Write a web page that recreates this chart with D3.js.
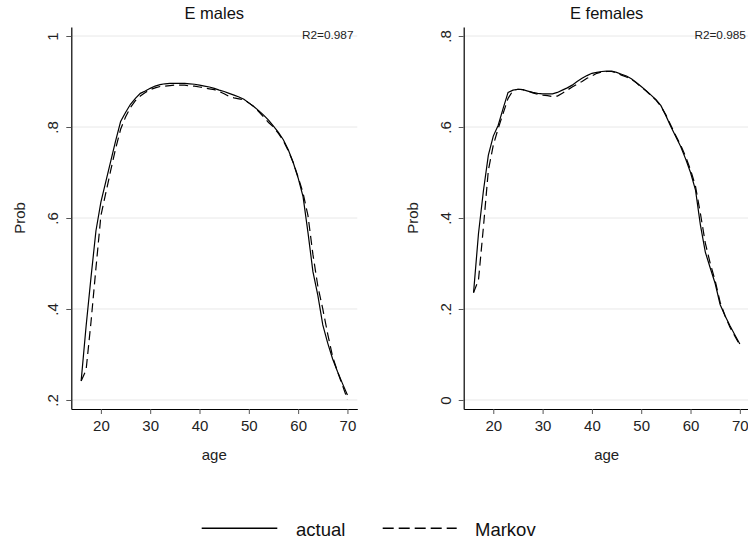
<!DOCTYPE html>
<html>
<head>
<meta charset="utf-8">
<script src="https://cdn.jsdelivr.net/npm/d3@7"></script>
<style>
  body { margin: 0; background: #fff; }
  svg { display: block; font-family: "Liberation Sans", Arial, sans-serif; }
</style>
</head>
<body>
<svg></svg>
<script>
const size = {w: 748, h: 539};
const svg = d3.select('svg').attr('width', size.w).attr('height', size.h);

// ages 16..70
const ages = d3.range(16, 71);

const maleActual = [0.242, 0.362, 0.470, 0.572, 0.635, 0.680, 0.725, 0.770, 0.812, 0.832,
  0.850, 0.863, 0.874, 0.879, 0.885, 0.890, 0.893, 0.895, 0.896, 0.896,
  0.896, 0.896, 0.895, 0.894, 0.892, 0.890, 0.888, 0.885, 0.881, 0.878,
  0.874, 0.870, 0.866, 0.861, 0.853, 0.845, 0.836, 0.826, 0.815, 0.802,
  0.788, 0.772, 0.750, 0.722, 0.688, 0.647, 0.568, 0.482, 0.430, 0.365,
  0.325, 0.290, 0.262, 0.236, 0.211];
const maleMarkov = [0.242, 0.266, 0.372, 0.490, 0.605, 0.655, 0.705, 0.753, 0.795, 0.822,
  0.843, 0.858, 0.868, 0.876, 0.882, 0.886, 0.889, 0.890, 0.891, 0.892,
  0.892, 0.892, 0.890, 0.890, 0.888, 0.886, 0.884, 0.882, 0.878, 0.873,
  0.867, 0.864, 0.862, 0.860, 0.853, 0.845, 0.834, 0.822, 0.810, 0.800,
  0.786, 0.770, 0.748, 0.722, 0.690, 0.655, 0.605, 0.520, 0.450, 0.400,
  0.345, 0.295, 0.262, 0.232, 0.201];

const femaleActual = [0.236, 0.366, 0.460, 0.538, 0.580, 0.604, 0.641, 0.676, 0.681, 0.683,
  0.682, 0.679, 0.676, 0.674, 0.673, 0.673, 0.673, 0.676, 0.681, 0.686,
  0.692, 0.700, 0.707, 0.713, 0.718, 0.720, 0.722, 0.723, 0.723, 0.720,
  0.716, 0.712, 0.706, 0.698, 0.689, 0.680, 0.670, 0.660, 0.647, 0.625,
  0.601, 0.579, 0.557, 0.530, 0.500, 0.462, 0.385, 0.325, 0.290, 0.256,
  0.210, 0.185, 0.163, 0.143, 0.123];
const femaleMarkov = [0.236, 0.264, 0.380, 0.505, 0.560, 0.597, 0.630, 0.663, 0.680, 0.683,
  0.682, 0.679, 0.675, 0.672, 0.670, 0.669, 0.667, 0.668, 0.674, 0.681,
  0.688, 0.694, 0.700, 0.707, 0.712, 0.718, 0.721, 0.722, 0.722, 0.719,
  0.714, 0.710, 0.705, 0.697, 0.688, 0.679, 0.669, 0.659, 0.645, 0.627,
  0.604, 0.581, 0.560, 0.535, 0.506, 0.470, 0.410, 0.345, 0.300, 0.262,
  0.215, 0.185, 0.160, 0.140, 0.121];

const xTicks = [20, 30, 40, 50, 60, 70];
const maleYTicks = [0.2, 0.4, 0.6, 0.8, 1];
const femaleYTicks = [0, 0.2, 0.4, 0.6, 0.8];

const panels = [
  {title: 'E males', r2: 'R2=0.987', left: 71.3, yDomain: [0.1802, 1.0198], yTicks: maleYTicks, actual: maleActual, markov: maleMarkov},
  {title: 'E females', r2: 'R2=0.985', left: 463.7, yDomain: [-0.0198, 0.8198], yTicks: femaleYTicks, actual: femaleActual, markov: femaleMarkov}
];

const plotW = 286, plotTop = 27, plotBottom = 409;
const fmt = d => d === 0 ? '0' : d === 1 ? '1' : d3.format('.1f')(d).replace(/^0/, '');

panels.forEach(p => {
  const x = d3.scaleLinear().domain([14, 72]).range([p.left, p.left + plotW]);
  const y = d3.scaleLinear().domain(p.yDomain).range([plotBottom, plotTop]);
  const g = svg.append('g');

  // gridlines
  g.selectAll('line.grid')
    .data(p.yTicks)
    .join('line')
    .attr('class', 'grid')
    .attr('x1', p.left).attr('x2', p.left + plotW)
    .attr('y1', d => y(d)).attr('y2', d => y(d))
    .attr('stroke', '#e8e8e8').attr('stroke-width', 1);

  // y axis
  const yAxis = g.append('g')
    .attr('transform', `translate(${p.left},0)`)
    .call(d3.axisLeft(y).tickValues(p.yTicks).tickFormat(fmt).tickSize(5).tickSizeOuter(0));
  yAxis.select('.domain').attr('stroke', '#000').attr('stroke-width', 1.2);
  yAxis.selectAll('.tick line').attr('stroke', '#555');
  yAxis.selectAll('.tick text')
    .attr('transform', 'rotate(-90)')
    .attr('x', 0).attr('y', -13).attr('dy', 0)
    .attr('text-anchor', 'middle')
    .attr('font-size', 15).attr('fill', '#222')
    .attr('font-family', '"Liberation Sans", Arial, sans-serif');

  // x axis
  const xAxis = g.append('g')
    .attr('transform', `translate(0,${plotBottom})`)
    .call(d3.axisBottom(x).tickValues(xTicks).tickSize(5).tickSizeOuter(0));
  xAxis.select('.domain').attr('stroke', '#000').attr('stroke-width', 1.2);
  xAxis.selectAll('.tick line').attr('stroke', '#555');
  xAxis.selectAll('.tick text')
    .attr('y', 21.7).attr('dy', 0)
    .attr('font-size', 15).attr('fill', '#222')
    .attr('font-family', '"Liberation Sans", Arial, sans-serif');

  // curves
  const line = d3.line().x((d, i) => x(ages[i])).y(d => y(d));
  g.append('path').datum(p.actual)
    .attr('d', line).attr('fill', 'none')
    .attr('stroke', '#000').attr('stroke-width', 1.2);
  g.append('path').datum(p.markov)
    .attr('d', line).attr('fill', 'none')
    .attr('stroke', '#000').attr('stroke-width', 1.2)
    .attr('stroke-dasharray', '9,5');

  // texts
  const cx = p.left + plotW / 2;
  g.append('text').attr('x', cx).attr('y', 19.3)
    .attr('text-anchor', 'middle').attr('font-size', 16.5).attr('fill', '#111')
    .text(p.title);
  g.append('text').attr('x', p.left + plotW - 3.8).attr('y', 39)
    .attr('text-anchor', 'end').attr('font-size', 11.8).attr('fill', '#222')
    .text(p.r2);
  g.append('text').attr('x', cx).attr('y', 459.5)
    .attr('text-anchor', 'middle').attr('font-size', 15).attr('fill', '#222')
    .text('age');
  g.append('text')
    .attr('transform', `translate(${p.left - 46},${(plotTop + plotBottom) / 2}) rotate(-90)`)
    .attr('text-anchor', 'middle').attr('font-size', 15).attr('fill', '#222')
    .text('Prob');
});

// legend
const legendItems = [
  {label: 'actual', x1: 201.7, x2: 277.3, tx: 296, dash: null},
  {label: 'Markov', x1: 382.7, x2: 456.7, tx: 475, dash: '11,5'}
];
const lg = svg.append('g');
legendItems.forEach(d => {
  lg.append('line')
    .attr('x1', d.x1).attr('x2', d.x2).attr('y1', 528.3).attr('y2', 528.3)
    .attr('stroke', '#000').attr('stroke-width', 1.4)
    .attr('stroke-dasharray', d.dash);
  lg.append('text').attr('x', d.tx).attr('y', 535.5)
    .attr('font-size', 18.5).attr('fill', '#111')
    .text(d.label);
});
</script>
</body>
</html>
